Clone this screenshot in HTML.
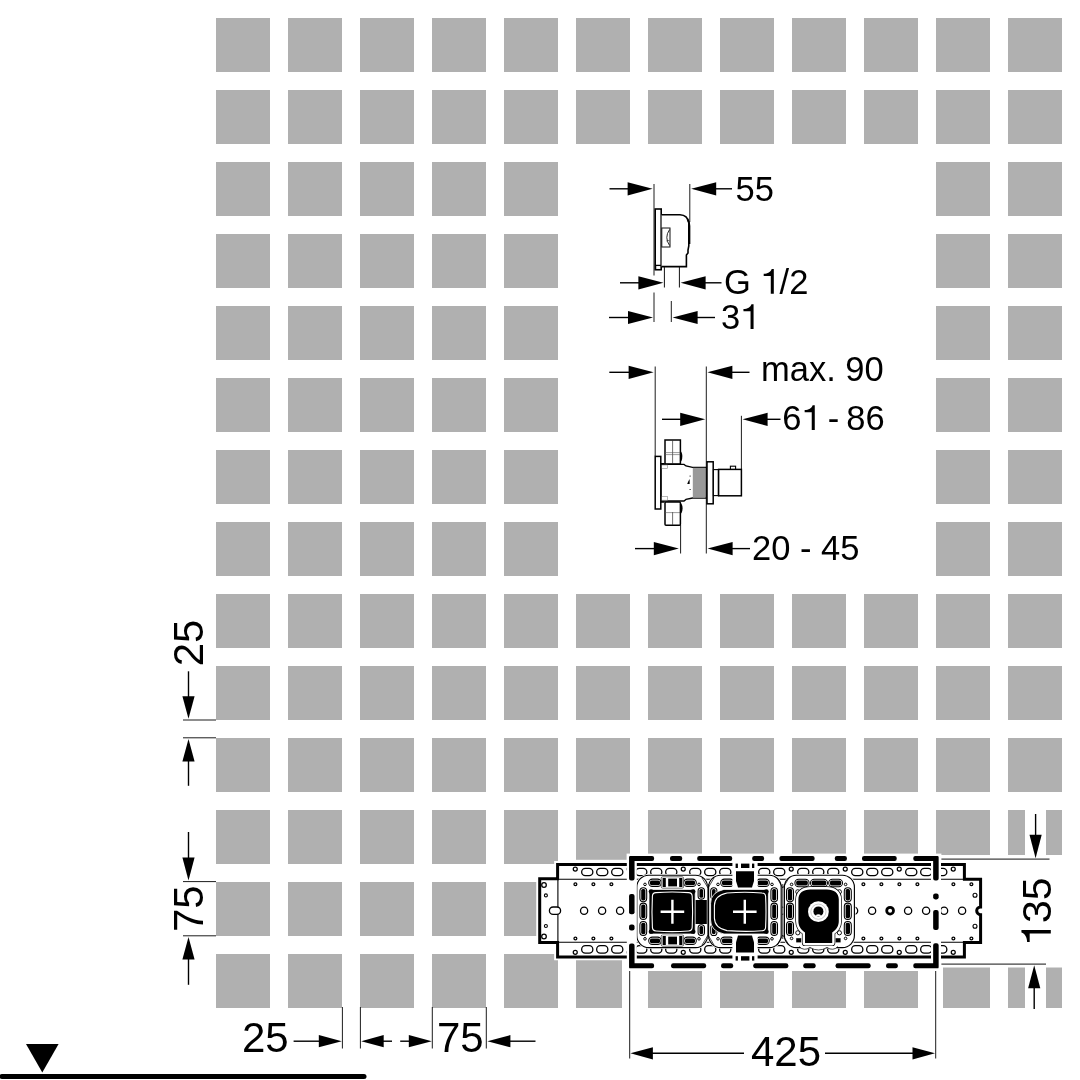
<!DOCTYPE html>
<html><head><meta charset="utf-8"><title>diagram</title>
<style>
html,body{margin:0;padding:0;background:#fff;}
body{width:1080px;height:1080px;overflow:hidden;}
svg{display:block;will-change:transform;}
text{font-family:"Liberation Sans",sans-serif;fill:#000;}
</style></head><body>
<svg width="1080" height="1080" viewBox="0 0 1080 1080">
<rect width="1080" height="1080" fill="#fff"/>
<g id="grid" fill="#b0b0b0">
<rect x="216" y="18" width="54" height="54"/>
<rect x="288" y="18" width="54" height="54"/>
<rect x="360" y="18" width="54" height="54"/>
<rect x="432" y="18" width="54" height="54"/>
<rect x="504" y="18" width="54" height="54"/>
<rect x="576" y="18" width="54" height="54"/>
<rect x="648" y="18" width="54" height="54"/>
<rect x="720" y="18" width="54" height="54"/>
<rect x="792" y="18" width="54" height="54"/>
<rect x="864" y="18" width="54" height="54"/>
<rect x="936" y="18" width="54" height="54"/>
<rect x="1008" y="18" width="54" height="54"/>
<rect x="216" y="90" width="54" height="54"/>
<rect x="288" y="90" width="54" height="54"/>
<rect x="360" y="90" width="54" height="54"/>
<rect x="432" y="90" width="54" height="54"/>
<rect x="504" y="90" width="54" height="54"/>
<rect x="576" y="90" width="54" height="54"/>
<rect x="648" y="90" width="54" height="54"/>
<rect x="720" y="90" width="54" height="54"/>
<rect x="792" y="90" width="54" height="54"/>
<rect x="864" y="90" width="54" height="54"/>
<rect x="936" y="90" width="54" height="54"/>
<rect x="1008" y="90" width="54" height="54"/>
<rect x="216" y="162" width="54" height="54"/>
<rect x="288" y="162" width="54" height="54"/>
<rect x="360" y="162" width="54" height="54"/>
<rect x="432" y="162" width="54" height="54"/>
<rect x="504" y="162" width="54" height="54"/>
<rect x="936" y="162" width="54" height="54"/>
<rect x="1008" y="162" width="54" height="54"/>
<rect x="216" y="234" width="54" height="54"/>
<rect x="288" y="234" width="54" height="54"/>
<rect x="360" y="234" width="54" height="54"/>
<rect x="432" y="234" width="54" height="54"/>
<rect x="504" y="234" width="54" height="54"/>
<rect x="936" y="234" width="54" height="54"/>
<rect x="1008" y="234" width="54" height="54"/>
<rect x="216" y="306" width="54" height="54"/>
<rect x="288" y="306" width="54" height="54"/>
<rect x="360" y="306" width="54" height="54"/>
<rect x="432" y="306" width="54" height="54"/>
<rect x="504" y="306" width="54" height="54"/>
<rect x="936" y="306" width="54" height="54"/>
<rect x="1008" y="306" width="54" height="54"/>
<rect x="216" y="378" width="54" height="54"/>
<rect x="288" y="378" width="54" height="54"/>
<rect x="360" y="378" width="54" height="54"/>
<rect x="432" y="378" width="54" height="54"/>
<rect x="504" y="378" width="54" height="54"/>
<rect x="936" y="378" width="54" height="54"/>
<rect x="1008" y="378" width="54" height="54"/>
<rect x="216" y="450" width="54" height="54"/>
<rect x="288" y="450" width="54" height="54"/>
<rect x="360" y="450" width="54" height="54"/>
<rect x="432" y="450" width="54" height="54"/>
<rect x="504" y="450" width="54" height="54"/>
<rect x="936" y="450" width="54" height="54"/>
<rect x="1008" y="450" width="54" height="54"/>
<rect x="216" y="522" width="54" height="54"/>
<rect x="288" y="522" width="54" height="54"/>
<rect x="360" y="522" width="54" height="54"/>
<rect x="432" y="522" width="54" height="54"/>
<rect x="504" y="522" width="54" height="54"/>
<rect x="936" y="522" width="54" height="54"/>
<rect x="1008" y="522" width="54" height="54"/>
<rect x="216" y="594" width="54" height="54"/>
<rect x="288" y="594" width="54" height="54"/>
<rect x="360" y="594" width="54" height="54"/>
<rect x="432" y="594" width="54" height="54"/>
<rect x="504" y="594" width="54" height="54"/>
<rect x="576" y="594" width="54" height="54"/>
<rect x="648" y="594" width="54" height="54"/>
<rect x="720" y="594" width="54" height="54"/>
<rect x="792" y="594" width="54" height="54"/>
<rect x="864" y="594" width="54" height="54"/>
<rect x="936" y="594" width="54" height="54"/>
<rect x="1008" y="594" width="54" height="54"/>
<rect x="216" y="666" width="54" height="54"/>
<rect x="288" y="666" width="54" height="54"/>
<rect x="360" y="666" width="54" height="54"/>
<rect x="432" y="666" width="54" height="54"/>
<rect x="504" y="666" width="54" height="54"/>
<rect x="576" y="666" width="54" height="54"/>
<rect x="648" y="666" width="54" height="54"/>
<rect x="720" y="666" width="54" height="54"/>
<rect x="792" y="666" width="54" height="54"/>
<rect x="864" y="666" width="54" height="54"/>
<rect x="936" y="666" width="54" height="54"/>
<rect x="1008" y="666" width="54" height="54"/>
<rect x="216" y="738" width="54" height="54"/>
<rect x="288" y="738" width="54" height="54"/>
<rect x="360" y="738" width="54" height="54"/>
<rect x="432" y="738" width="54" height="54"/>
<rect x="504" y="738" width="54" height="54"/>
<rect x="576" y="738" width="54" height="54"/>
<rect x="648" y="738" width="54" height="54"/>
<rect x="720" y="738" width="54" height="54"/>
<rect x="792" y="738" width="54" height="54"/>
<rect x="864" y="738" width="54" height="54"/>
<rect x="936" y="738" width="54" height="54"/>
<rect x="1008" y="738" width="54" height="54"/>
<rect x="216" y="810" width="54" height="54"/>
<rect x="288" y="810" width="54" height="54"/>
<rect x="360" y="810" width="54" height="54"/>
<rect x="432" y="810" width="54" height="54"/>
<rect x="504" y="810" width="54" height="54"/>
<rect x="576" y="810" width="54" height="54"/>
<rect x="648" y="810" width="54" height="54"/>
<rect x="720" y="810" width="54" height="54"/>
<rect x="792" y="810" width="54" height="54"/>
<rect x="864" y="810" width="54" height="54"/>
<rect x="936" y="810" width="54" height="54"/>
<rect x="1008" y="810" width="54" height="54"/>
<rect x="216" y="882" width="54" height="54"/>
<rect x="288" y="882" width="54" height="54"/>
<rect x="360" y="882" width="54" height="54"/>
<rect x="432" y="882" width="54" height="54"/>
<rect x="504" y="882" width="54" height="54"/>
<rect x="576" y="882" width="54" height="54"/>
<rect x="648" y="882" width="54" height="54"/>
<rect x="720" y="882" width="54" height="54"/>
<rect x="792" y="882" width="54" height="54"/>
<rect x="864" y="882" width="54" height="54"/>
<rect x="936" y="882" width="54" height="54"/>
<rect x="1008" y="882" width="54" height="54"/>
<rect x="216" y="954" width="54" height="54"/>
<rect x="288" y="954" width="54" height="54"/>
<rect x="360" y="954" width="54" height="54"/>
<rect x="432" y="954" width="54" height="54"/>
<rect x="504" y="954" width="54" height="54"/>
<rect x="576" y="954" width="54" height="54"/>
<rect x="648" y="954" width="54" height="54"/>
<rect x="720" y="954" width="54" height="54"/>
<rect x="792" y="954" width="54" height="54"/>
<rect x="864" y="954" width="54" height="54"/>
<rect x="936" y="954" width="54" height="54"/>
<rect x="1008" y="954" width="54" height="54"/>
</g>
<g id="masks" fill="#fff">
<rect x="938" y="855" width="142" height="112.5"/>
<rect x="1025" y="800" width="21" height="220"/>
<rect x="622" y="960" width="15" height="60"/>
<rect x="928.5" y="960" width="14.5" height="60"/>
</g>
<g id="top1">
<line x1="654" y1="184" x2="654" y2="275.5" stroke="#1c1c1c" stroke-width="1.0"/>
<line x1="654" y1="292.5" x2="654" y2="322" stroke="#1c1c1c" stroke-width="1.0"/>
<line x1="689.8" y1="184" x2="689.8" y2="222" stroke="#1c1c1c" stroke-width="1.0"/>
<line x1="609.5" y1="188.8" x2="628.6" y2="188.8" stroke="#000" stroke-width="1.4"/>
<polygon points="652.6,188.8 627.6,195.4 627.6,182.2" fill="#000"/>
<line x1="732.0" y1="188.8" x2="715.2" y2="188.8" stroke="#000" stroke-width="1.4"/>
<polygon points="691.2,188.8 716.2,182.2 716.2,195.4" fill="#000"/>
<g>
<text x="735.50 754.69" y="200.5" font-size="34.5" xml:space="preserve">55</text>
</g>
<rect x="655.2" y="209" width="6" height="60.6" fill="#fff" stroke="#000" stroke-width="1.6"/>
<rect x="655.6" y="265.4" width="5.4" height="4.2" fill="#fff" stroke="#000" stroke-width="1.3"/>
<path d="M661.6 214.8 H680 Q687.6 215 688.8 223 V246 L688 250 V253 L686.4 255 V266.6 H661.6" fill="#fff" stroke="#000" stroke-width="1.6"/>
<path d="M687.4 219 Q689.4 222 689.4 226 V244" fill="none" stroke="#000" stroke-width="1.9"/>
<rect x="661.8" y="228" width="8.2" height="19" fill="none" stroke="#111" stroke-width="1.0"/>
<path d="M669.6 229.5 Q664 237.5 669.6 245.5" fill="none" stroke="#111" stroke-width="0.9"/>
<path d="M666.5 241 Q668 240 669.6 241" fill="none" stroke="#222" stroke-width="0.7"/>
<line x1="664.4" y1="267" x2="664.4" y2="287.5" stroke="#111" stroke-width="1.0"/>
<line x1="679.4" y1="267" x2="679.4" y2="287.5" stroke="#111" stroke-width="1.0"/>
<line x1="620.0" y1="282.8" x2="639.4" y2="282.8" stroke="#000" stroke-width="1.4"/>
<polygon points="663.4,282.8 638.4,289.4 638.4,276.2" fill="#000"/>
<line x1="721.5" y1="282.8" x2="704.6" y2="282.8" stroke="#000" stroke-width="1.4"/>
<polygon points="680.6,282.8 705.6,276.2 705.6,289.4" fill="#000"/>
<g>
<text x="724.00 750.84" y="293.7" font-size="34.5" xml:space="preserve">G </text>
<path d="M770.78 293.70 V275.93 H763.70 V273.76 C767.67 273.76 770.78 271.96 771.71 269.00 H773.81 V293.70 Z"/>
<text x="779.61 789.19" y="293.7" font-size="34.5" xml:space="preserve">/2</text>
</g>
<line x1="671.3" y1="301" x2="671.3" y2="322" stroke="#1c1c1c" stroke-width="1.0"/>
<line x1="609.0" y1="317.5" x2="629.0" y2="317.5" stroke="#000" stroke-width="1.4"/>
<polygon points="653.0,317.5 628.0,324.1 628.0,310.9" fill="#000"/>
<line x1="715.0" y1="317.5" x2="696.6" y2="317.5" stroke="#000" stroke-width="1.4"/>
<polygon points="672.6,317.5 697.6,310.9 697.6,324.1" fill="#000"/>
<g>
<text x="721.00" y="329" font-size="34.5" xml:space="preserve">3</text>
<path d="M750.54 329.00 V311.23 H743.46 V309.06 C747.43 309.06 750.54 307.26 751.47 304.30 H753.57 V329.00 Z"/>
</g>
</g>
<g id="top2">
<line x1="655.2" y1="366.5" x2="655.2" y2="456" stroke="#1c1c1c" stroke-width="1.0"/>
<line x1="706.3" y1="366.5" x2="706.3" y2="553.5" stroke="#1c1c1c" stroke-width="1.0"/>
<line x1="741.4" y1="415.8" x2="741.4" y2="469" stroke="#1c1c1c" stroke-width="1.0"/>
<line x1="680.6" y1="525" x2="680.6" y2="553.5" stroke="#1c1c1c" stroke-width="1.0"/>
<line x1="609.3" y1="372.3" x2="629.6" y2="372.3" stroke="#000" stroke-width="1.4"/>
<polygon points="653.6,372.3 628.6,378.9 628.6,365.7" fill="#000"/>
<line x1="749.5" y1="372.3" x2="731.4" y2="372.3" stroke="#000" stroke-width="1.4"/>
<polygon points="707.4,372.3 732.4,365.7 732.4,378.9" fill="#000"/>
<g>
<text x="761.00 789.74 808.93 826.18 835.76 845.35 864.54" y="381" font-size="34.5" xml:space="preserve">max. 90</text>
</g>
<line x1="662.0" y1="419.3" x2="681.2" y2="419.3" stroke="#000" stroke-width="1.4"/>
<polygon points="705.2,419.3 680.2,425.9 680.2,412.7" fill="#000"/>
<line x1="780.5" y1="419.3" x2="766.6" y2="419.3" stroke="#000" stroke-width="1.4"/>
<polygon points="742.6,419.3 767.6,412.7 767.6,425.9" fill="#000"/>
<g>
<text x="782.20" y="430" font-size="34.5" xml:space="preserve">6</text>
<path d="M811.74 430.00 V412.23 H804.66 V410.06 C808.63 410.06 811.74 408.26 812.67 405.30 H814.77 V430.00 Z"/>
<text x="820.57 827.64 839.13 846.20 865.39" y="430" font-size="34.5" xml:space="preserve"> - 86</text>
</g>
<line x1="635.0" y1="548.6" x2="654.8" y2="548.6" stroke="#000" stroke-width="1.4"/>
<polygon points="678.8,548.6 653.8,555.2 653.8,542.0" fill="#000"/>
<line x1="750.0" y1="548.6" x2="731.6" y2="548.6" stroke="#000" stroke-width="1.4"/>
<polygon points="707.6,548.6 732.6,542.0 732.6,555.2" fill="#000"/>
<g>
<text x="752.00 771.19 790.37 799.97 811.45 821.05 840.23" y="560.3" font-size="34.5" xml:space="preserve">20 - 45</text>
</g>
<rect x="665" y="440" width="15.4" height="24" fill="#fff" stroke="#000" stroke-width="1.5"/>
<line x1="672.6" y1="440" x2="672.6" y2="464" stroke="#333" stroke-width="0.7"/>
<line x1="665" y1="452.6" x2="680.4" y2="452.6" stroke="#555" stroke-width="0.6"/>
<line x1="665" y1="454.6" x2="680.4" y2="454.6" stroke="#555" stroke-width="0.6"/>
<path d="M680.6 452 Q682.6 456 680.6 461" fill="none" stroke="#000" stroke-width="1.6"/>
<rect x="665" y="502" width="15.4" height="23.2" rx="1" fill="#fff" stroke="#000" stroke-width="1.5"/>
<line x1="672.6" y1="512" x2="672.6" y2="525" stroke="#333" stroke-width="0.7"/>
<line x1="665" y1="512.6" x2="680.4" y2="512.6" stroke="#555" stroke-width="0.6"/>
<path d="M680.6 504 Q682.8 508 680.6 513" fill="none" stroke="#000" stroke-width="1.8"/>
<path d="M661 464.4 H684 L686 466 L692.5 467.4 H706 V498 H692.5 L686 499.4 L684 501 H661 Z" fill="#fff" stroke="#000" stroke-width="1.3"/>
<rect x="692.8" y="467.8" width="12.8" height="30" fill="#999"/>
<rect x="661.4" y="465" width="6" height="3.6" fill="#fff" stroke="#888" stroke-width="0.6"/>
<rect x="661.4" y="496.6" width="6" height="3.6" fill="#fff" stroke="#888" stroke-width="0.6"/>
<path d="M688 482 l1.6 -3 v5 h-2.4 z" fill="#000"/>
<rect x="689.6" y="475.6" width="1" height="1" fill="#000"/>
<rect x="689.6" y="489" width="1" height="1" fill="#000"/>
<rect x="655.2" y="456.4" width="5.6" height="52.6" fill="#fff" stroke="#000" stroke-width="1.5"/>
<path d="M660.8 463.6 H664.6 M660.8 502 H664.6" stroke="#000" stroke-width="1.4"/>
<rect x="707" y="461.8" width="6.2" height="42" fill="#fff" stroke="#000" stroke-width="1.5"/>
<rect x="713.4" y="469.6" width="5" height="26" fill="#fff" stroke="#000" stroke-width="1.1"/>
<rect x="730.4" y="466.2" width="5.2" height="3.4" fill="#fff" stroke="#000" stroke-width="1.1"/>
<rect x="718.6" y="469.4" width="22.8" height="26.4" fill="#fff" stroke="#000" stroke-width="1.5"/>
</g>
<g id="dims">
<g transform="rotate(-90 203.2 666.3)">
<text x="203.20 226.56" y="666.3" font-size="42" xml:space="preserve">25</text>
</g>
<line x1="188.5" y1="671.3" x2="188.5" y2="697.3" stroke="#000" stroke-width="1.4"/>
<polygon points="188.5,718.8 182.4,696.3 194.6,696.3" fill="#000"/>
<line x1="183" y1="720" x2="216" y2="720" stroke="#1c1c1c" stroke-width="1.0"/>
<line x1="183" y1="737.8" x2="216" y2="737.8" stroke="#1c1c1c" stroke-width="1.0"/>
<line x1="188.5" y1="785.8" x2="188.5" y2="760.5" stroke="#000" stroke-width="1.4"/>
<polygon points="188.5,739.0 194.6,761.5 182.4,761.5" fill="#000"/>
<line x1="188.5" y1="832.0" x2="188.5" y2="858.6" stroke="#000" stroke-width="1.4"/>
<polygon points="188.5,880.6 182.4,857.6 194.6,857.6" fill="#000"/>
<line x1="183" y1="881.6" x2="216" y2="881.6" stroke="#1c1c1c" stroke-width="1.0"/>
<g transform="rotate(-90 203.2 932)">
<text x="203.20 226.56" y="932" font-size="42" xml:space="preserve">75</text>
</g>
<line x1="183" y1="935.8" x2="216" y2="935.8" stroke="#1c1c1c" stroke-width="1.0"/>
<line x1="188.5" y1="984.8" x2="188.5" y2="958.5" stroke="#000" stroke-width="1.4"/>
<polygon points="188.5,937.0 194.6,959.5 182.4,959.5" fill="#000"/>
<g>
<text x="242.00 265.36" y="1052.3" font-size="42" xml:space="preserve">25</text>
</g>
<line x1="293.6" y1="1041.2" x2="319.8" y2="1041.2" stroke="#000" stroke-width="1.4"/>
<polygon points="341.8,1041.2 318.8,1047.3 318.8,1035.1" fill="#000"/>
<line x1="342.4" y1="1007" x2="342.4" y2="1048.5" stroke="#1c1c1c" stroke-width="1.0"/>
<line x1="360.4" y1="1007" x2="360.4" y2="1048.5" stroke="#1c1c1c" stroke-width="1.0"/>
<line x1="392.0" y1="1041.2" x2="382.7" y2="1041.2" stroke="#000" stroke-width="1.4"/>
<polygon points="361.2,1041.2 383.7,1035.1 383.7,1047.3" fill="#000"/>
<line x1="400.2" y1="1041.2" x2="409.8" y2="1041.2" stroke="#000" stroke-width="1.4"/>
<polygon points="431.8,1041.2 408.8,1047.3 408.8,1035.1" fill="#000"/>
<line x1="432.3" y1="1007" x2="432.3" y2="1048.5" stroke="#1c1c1c" stroke-width="1.0"/>
<g>
<text x="437.00 460.36" y="1052.3" font-size="42" xml:space="preserve">75</text>
</g>
<line x1="486.3" y1="1007" x2="486.3" y2="1048.5" stroke="#1c1c1c" stroke-width="1.0"/>
<line x1="535.5" y1="1041.2" x2="509.4" y2="1041.2" stroke="#000" stroke-width="1.4"/>
<polygon points="487.4,1041.2 510.4,1035.1 510.4,1047.3" fill="#000"/>
<line x1="2" y1="1076.4" x2="364" y2="1076.4" stroke="#000" stroke-width="5" stroke-linecap="round"/>
<polygon points="26,1044 58.6,1044 42.3,1072.6" fill="#000"/>
<line x1="629.7" y1="970" x2="629.7" y2="1058.5" stroke="#1c1c1c" stroke-width="1.0"/>
<line x1="935.7" y1="970" x2="935.7" y2="1058.5" stroke="#1c1c1c" stroke-width="1.0"/>
<line x1="744.0" y1="1053.3" x2="651.9" y2="1053.3" stroke="#000" stroke-width="1.4"/>
<polygon points="630.4,1053.3 652.9,1047.2 652.9,1059.4" fill="#000"/>
<line x1="825.0" y1="1053.3" x2="913.5" y2="1053.3" stroke="#000" stroke-width="1.4"/>
<polygon points="935.0,1053.3 912.5,1059.4 912.5,1047.2" fill="#000"/>
<g>
<text x="751.00 774.36 797.72" y="1065.5" font-size="42" xml:space="preserve">425</text>
</g>
<line x1="941" y1="859.1" x2="1049.5" y2="859.1" stroke="#111" stroke-width="1.0"/>
<line x1="941" y1="964.1" x2="1046" y2="964.1" stroke="#111" stroke-width="1.0"/>
<line x1="1035.6" y1="814.0" x2="1035.6" y2="835.7" stroke="#000" stroke-width="1.4"/>
<polygon points="1035.6,858.2 1029.5,834.7 1041.7,834.7" fill="#000"/>
<line x1="1034.2" y1="1009.0" x2="1034.2" y2="987.2" stroke="#000" stroke-width="1.4"/>
<polygon points="1034.2,965.2 1040.3,988.2 1028.1,988.2" fill="#000"/>
<g transform="rotate(-90 1050.8 945.8)">
<path d="M1063.10 945.80 V924.68 H1054.69 V922.10 C1059.41 922.10 1063.10 919.97 1064.21 916.44 H1066.71 V945.80 Z"/>
<text x="1073.60 1096.40" y="945.8" font-size="41" xml:space="preserve">35</text>
</g>
</g>
<g id="plate">
<rect x="626.6" y="853.6" width="314.8" height="117.4" fill="#fff"/>
<rect x="572" y="859.8" width="60" height="6" fill="#fff"/>
<path d="M557.6 864.5 H964.4 V879.2 H980.6 V906.9 A3.9 3.9 0 0 0 980.6 914.7 V942.5 H964.4 V956.9 H557.6 V942.5 H539.7 V878.8 H557.6 Z" fill="#fff" stroke="#fff" stroke-width="6.9" stroke-linejoin="miter"/>
<path d="M557.6 864.5 H964.4 V879.2 H980.6 V906.9 A3.9 3.9 0 0 0 980.6 914.7 V942.5 H964.4 V956.9 H557.6 V942.5 H539.7 V878.8 H557.6 Z" fill="none" stroke="#000" stroke-width="3.0" stroke-linejoin="miter"/>
<g stroke="#000" stroke-width="1.1" fill="none">
<path d="M557.6 879.3 H963 M557.6 942.3 H963 M557.9 879 V942.5"/>
</g>
<g fill="#fff" stroke="#000">
<circle cx="575.25" cy="869.10" r="2.0" stroke-width="1.25"/>
<circle cx="575.25" cy="952.30" r="2.0" stroke-width="1.25"/>
<rect x="581.65" y="868.30" width="11.2" height="7.4" rx="3.7" stroke-width="1.3"/>
<rect x="581.65" y="945.70" width="11.2" height="7.4" rx="3.7" stroke-width="1.3"/>
<rect x="596.65" y="868.30" width="11.2" height="7.4" rx="3.7" stroke-width="1.3"/>
<rect x="596.65" y="945.70" width="11.2" height="7.4" rx="3.7" stroke-width="1.3"/>
<rect x="611.65" y="868.30" width="11.2" height="7.4" rx="3.7" stroke-width="1.3"/>
<rect x="611.65" y="945.70" width="11.2" height="7.4" rx="3.7" stroke-width="1.3"/>
<circle cx="629.25" cy="869.10" r="2.0" stroke-width="1.25"/>
<circle cx="629.25" cy="952.30" r="2.0" stroke-width="1.25"/>
<rect x="635.65" y="868.30" width="11.2" height="7.4" rx="3.7" stroke-width="1.3"/>
<rect x="635.65" y="945.70" width="11.2" height="7.4" rx="3.7" stroke-width="1.3"/>
<rect x="650.65" y="868.30" width="11.2" height="7.4" rx="3.7" stroke-width="1.3"/>
<rect x="650.65" y="945.70" width="11.2" height="7.4" rx="3.7" stroke-width="1.3"/>
<rect x="665.65" y="868.30" width="11.2" height="7.4" rx="3.7" stroke-width="1.3"/>
<rect x="665.65" y="945.70" width="11.2" height="7.4" rx="3.7" stroke-width="1.3"/>
<circle cx="683.25" cy="869.10" r="2.0" stroke-width="1.25"/>
<circle cx="683.25" cy="952.30" r="2.0" stroke-width="1.25"/>
<rect x="689.65" y="868.30" width="11.2" height="7.4" rx="3.7" stroke-width="1.3"/>
<rect x="689.65" y="945.70" width="11.2" height="7.4" rx="3.7" stroke-width="1.3"/>
<rect x="704.65" y="868.30" width="11.2" height="7.4" rx="3.7" stroke-width="1.3"/>
<rect x="704.65" y="945.70" width="11.2" height="7.4" rx="3.7" stroke-width="1.3"/>
<rect x="719.65" y="868.30" width="11.2" height="7.4" rx="3.7" stroke-width="1.3"/>
<rect x="719.65" y="945.70" width="11.2" height="7.4" rx="3.7" stroke-width="1.3"/>
<circle cx="737.25" cy="869.10" r="2.0" stroke-width="1.25"/>
<circle cx="737.25" cy="952.30" r="2.0" stroke-width="1.25"/>
<rect x="743.65" y="868.30" width="11.2" height="7.4" rx="3.7" stroke-width="1.3"/>
<rect x="743.65" y="945.70" width="11.2" height="7.4" rx="3.7" stroke-width="1.3"/>
<rect x="758.65" y="868.30" width="11.2" height="7.4" rx="3.7" stroke-width="1.3"/>
<rect x="758.65" y="945.70" width="11.2" height="7.4" rx="3.7" stroke-width="1.3"/>
<rect x="773.65" y="868.30" width="11.2" height="7.4" rx="3.7" stroke-width="1.3"/>
<rect x="773.65" y="945.70" width="11.2" height="7.4" rx="3.7" stroke-width="1.3"/>
<circle cx="791.25" cy="869.10" r="2.0" stroke-width="1.25"/>
<circle cx="791.25" cy="952.30" r="2.0" stroke-width="1.25"/>
<rect x="797.65" y="868.30" width="11.2" height="7.4" rx="3.7" stroke-width="1.3"/>
<rect x="797.65" y="945.70" width="11.2" height="7.4" rx="3.7" stroke-width="1.3"/>
<rect x="812.65" y="868.30" width="11.2" height="7.4" rx="3.7" stroke-width="1.3"/>
<rect x="812.65" y="945.70" width="11.2" height="7.4" rx="3.7" stroke-width="1.3"/>
<rect x="827.65" y="868.30" width="11.2" height="7.4" rx="3.7" stroke-width="1.3"/>
<rect x="827.65" y="945.70" width="11.2" height="7.4" rx="3.7" stroke-width="1.3"/>
<circle cx="845.25" cy="869.10" r="2.0" stroke-width="1.25"/>
<circle cx="845.25" cy="952.30" r="2.0" stroke-width="1.25"/>
<rect x="851.65" y="868.30" width="11.2" height="7.4" rx="3.7" stroke-width="1.3"/>
<rect x="851.65" y="945.70" width="11.2" height="7.4" rx="3.7" stroke-width="1.3"/>
<rect x="866.65" y="868.30" width="11.2" height="7.4" rx="3.7" stroke-width="1.3"/>
<rect x="866.65" y="945.70" width="11.2" height="7.4" rx="3.7" stroke-width="1.3"/>
<rect x="881.65" y="868.30" width="11.2" height="7.4" rx="3.7" stroke-width="1.3"/>
<rect x="881.65" y="945.70" width="11.2" height="7.4" rx="3.7" stroke-width="1.3"/>
<circle cx="899.25" cy="869.10" r="2.0" stroke-width="1.25"/>
<circle cx="899.25" cy="952.30" r="2.0" stroke-width="1.25"/>
<rect x="905.65" y="868.30" width="11.2" height="7.4" rx="3.7" stroke-width="1.3"/>
<rect x="905.65" y="945.70" width="11.2" height="7.4" rx="3.7" stroke-width="1.3"/>
<rect x="920.65" y="868.30" width="11.2" height="7.4" rx="3.7" stroke-width="1.3"/>
<rect x="920.65" y="945.70" width="11.2" height="7.4" rx="3.7" stroke-width="1.3"/>
<rect x="935.65" y="868.30" width="11.2" height="7.4" rx="3.7" stroke-width="1.3"/>
<rect x="935.65" y="945.70" width="11.2" height="7.4" rx="3.7" stroke-width="1.3"/>
<circle cx="953.25" cy="869.10" r="2.0" stroke-width="1.25"/>
<circle cx="953.25" cy="952.30" r="2.0" stroke-width="1.25"/>
<circle cx="575.40" cy="884.25" r="1.45" stroke-width="1.25"/>
<circle cx="575.40" cy="938.45" r="1.45" stroke-width="1.25"/>
<circle cx="593.40" cy="884.25" r="1.45" stroke-width="1.25"/>
<circle cx="593.40" cy="938.45" r="1.45" stroke-width="1.25"/>
<circle cx="611.40" cy="884.25" r="1.45" stroke-width="1.25"/>
<circle cx="611.40" cy="938.45" r="1.45" stroke-width="1.25"/>
<circle cx="629.40" cy="884.25" r="1.45" stroke-width="1.25"/>
<circle cx="629.40" cy="938.45" r="1.45" stroke-width="1.25"/>
<circle cx="647.40" cy="884.25" r="1.45" stroke-width="1.25"/>
<circle cx="647.40" cy="938.45" r="1.45" stroke-width="1.25"/>
<circle cx="665.40" cy="884.25" r="1.45" stroke-width="1.25"/>
<circle cx="665.40" cy="938.45" r="1.45" stroke-width="1.25"/>
<circle cx="683.40" cy="884.25" r="1.45" stroke-width="1.25"/>
<circle cx="683.40" cy="938.45" r="1.45" stroke-width="1.25"/>
<circle cx="701.40" cy="884.25" r="1.45" stroke-width="1.25"/>
<circle cx="701.40" cy="938.45" r="1.45" stroke-width="1.25"/>
<circle cx="719.40" cy="884.25" r="1.45" stroke-width="1.25"/>
<circle cx="719.40" cy="938.45" r="1.45" stroke-width="1.25"/>
<circle cx="737.40" cy="884.25" r="1.45" stroke-width="1.25"/>
<circle cx="737.40" cy="938.45" r="1.45" stroke-width="1.25"/>
<circle cx="755.40" cy="884.25" r="1.45" stroke-width="1.25"/>
<circle cx="755.40" cy="938.45" r="1.45" stroke-width="1.25"/>
<circle cx="773.40" cy="884.25" r="1.45" stroke-width="1.25"/>
<circle cx="773.40" cy="938.45" r="1.45" stroke-width="1.25"/>
<circle cx="791.40" cy="884.25" r="1.45" stroke-width="1.25"/>
<circle cx="791.40" cy="938.45" r="1.45" stroke-width="1.25"/>
<circle cx="809.40" cy="884.25" r="1.45" stroke-width="1.25"/>
<circle cx="809.40" cy="938.45" r="1.45" stroke-width="1.25"/>
<circle cx="827.40" cy="884.25" r="1.45" stroke-width="1.25"/>
<circle cx="827.40" cy="938.45" r="1.45" stroke-width="1.25"/>
<circle cx="845.40" cy="884.25" r="1.45" stroke-width="1.25"/>
<circle cx="845.40" cy="938.45" r="1.45" stroke-width="1.25"/>
<circle cx="863.40" cy="884.25" r="1.45" stroke-width="1.25"/>
<circle cx="863.40" cy="938.45" r="1.45" stroke-width="1.25"/>
<circle cx="881.40" cy="884.25" r="1.45" stroke-width="1.25"/>
<circle cx="881.40" cy="938.45" r="1.45" stroke-width="1.25"/>
<circle cx="899.40" cy="884.25" r="1.45" stroke-width="1.25"/>
<circle cx="899.40" cy="938.45" r="1.45" stroke-width="1.25"/>
<circle cx="917.40" cy="884.25" r="1.45" stroke-width="1.25"/>
<circle cx="917.40" cy="938.45" r="1.45" stroke-width="1.25"/>
<circle cx="935.40" cy="884.25" r="1.45" stroke-width="1.25"/>
<circle cx="935.40" cy="938.45" r="1.45" stroke-width="1.25"/>
<circle cx="953.40" cy="884.25" r="1.45" stroke-width="1.25"/>
<circle cx="953.40" cy="938.45" r="1.45" stroke-width="1.25"/>
<circle cx="971.40" cy="884.25" r="1.45" stroke-width="1.25"/>
<circle cx="971.40" cy="938.45" r="1.45" stroke-width="1.25"/>
<circle cx="584.10" cy="910.70" r="3.6" stroke-width="1.3"/>
<circle cx="602.10" cy="910.70" r="3.6" stroke-width="1.3"/>
<circle cx="620.10" cy="910.70" r="3.6" stroke-width="1.3"/>
<circle cx="638.10" cy="910.70" r="3.6" stroke-width="1.3"/>
<circle cx="656.10" cy="910.70" r="3.6" stroke-width="1.3"/>
<circle cx="674.10" cy="910.70" r="3.6" stroke-width="1.3"/>
<circle cx="692.10" cy="910.70" r="3.6" stroke-width="1.3"/>
<circle cx="710.10" cy="910.70" r="3.6" stroke-width="1.3"/>
<circle cx="728.10" cy="910.70" r="3.6" stroke-width="1.3"/>
<circle cx="746.10" cy="910.70" r="3.6" stroke-width="1.3"/>
<circle cx="764.10" cy="910.70" r="3.6" stroke-width="1.3"/>
<circle cx="782.10" cy="910.70" r="3.6" stroke-width="1.3"/>
<circle cx="800.10" cy="910.70" r="3.6" stroke-width="1.3"/>
<circle cx="818.10" cy="910.70" r="3.6" stroke-width="1.3"/>
<circle cx="836.10" cy="910.70" r="3.6" stroke-width="1.3"/>
<circle cx="854.10" cy="910.70" r="3.6" stroke-width="1.3"/>
<circle cx="872.10" cy="910.70" r="3.6" stroke-width="1.3"/>
<circle cx="890.10" cy="910.7" r="3.4" stroke-width="2.8"/>
<circle cx="908.10" cy="910.70" r="3.6" stroke-width="1.3"/>
<circle cx="926.10" cy="910.70" r="3.6" stroke-width="1.3"/>
<circle cx="944.10" cy="910.70" r="3.6" stroke-width="1.3"/>
<circle cx="962.10" cy="910.70" r="3.6" stroke-width="1.3"/>
<rect x="549.40" y="907.00" width="11.2" height="7.4" rx="3.7" stroke-width="1.3"/>
<circle cx="544.00" cy="885.00" r="2.3" stroke-width="1.3"/>
<circle cx="544.00" cy="936.50" r="2.3" stroke-width="1.3"/>
<circle cx="545.90" cy="895.40" r="1.5" stroke-width="1.1"/>
<circle cx="545.90" cy="926.00" r="1.5" stroke-width="1.1"/>
<circle cx="975.00" cy="895.30" r="2.0" stroke-width="1.1"/>
<circle cx="975.00" cy="926.20" r="2.0" stroke-width="1.1"/>
</g>
<rect x="636.8" y="875.2" width="70.80000000000007" height="72.39999999999998" rx="12" fill="#fff" stroke="#fff" stroke-width="2.4"/>
<rect x="636.8" y="875.2" width="70.80000000000007" height="72.39999999999998" rx="12" fill="#fff" stroke="#000" stroke-width="1.15"/>
<rect x="708.6" y="875.2" width="72.60000000000002" height="72.39999999999998" rx="12" fill="#fff" stroke="#fff" stroke-width="2.4"/>
<rect x="708.6" y="875.2" width="72.60000000000002" height="72.39999999999998" rx="12" fill="#fff" stroke="#000" stroke-width="1.15"/>
<rect x="784.4" y="875.2" width="70.0" height="72.39999999999998" rx="12" fill="#fff" stroke="#fff" stroke-width="2.4"/>
<rect x="784.4" y="875.2" width="70.0" height="72.39999999999998" rx="12" fill="#fff" stroke="#000" stroke-width="1.15"/>
<path d="M708.1 884 V939 M782.8 884 V939" stroke="#000" stroke-width="0.8"/>
<path d="M702 878 L708.1 888 L714 878 M702 945 L708.1 935 L714 945 M777 878 L782.8 888 L789 878 M777 945 L782.8 935 L789 945" stroke="#000" stroke-width="0.7" fill="none"/>
<rect x="639.90" y="887.70" width="6.80" height="14.00" rx="3.40" fill="#fff" stroke="#000" stroke-width="1.05"/>
<rect x="641.20" y="889.00" width="4.20" height="11.40" rx="1.60" fill="#000"/>
<rect x="639.90" y="903.10" width="6.80" height="16.40" rx="3.40" fill="#fff" stroke="#000" stroke-width="1.05"/>
<rect x="641.20" y="904.40" width="4.20" height="13.80" rx="1.60" fill="#000"/>
<rect x="639.90" y="921.50" width="6.80" height="14.00" rx="3.40" fill="#fff" stroke="#000" stroke-width="1.05"/>
<rect x="641.20" y="922.80" width="4.20" height="11.40" rx="1.60" fill="#000"/>
<rect x="698.10" y="887.70" width="6.40" height="11.40" rx="3.20" fill="#fff" stroke="#000" stroke-width="1.05"/>
<rect x="699.40" y="889.00" width="3.80" height="8.80" rx="1.60" fill="#000"/>
<rect x="698.10" y="924.70" width="6.40" height="10.80" rx="3.20" fill="#fff" stroke="#000" stroke-width="1.05"/>
<rect x="699.40" y="926.00" width="3.80" height="8.20" rx="1.60" fill="#000"/>
<rect x="648.70" y="879.10" width="12.60" height="7.40" rx="3.70" fill="#fff" stroke="#000" stroke-width="1.05"/>
<rect x="650.00" y="880.40" width="10.00" height="4.80" rx="1.60" fill="#000"/>
<rect x="683.70" y="879.10" width="12.60" height="7.40" rx="3.70" fill="#fff" stroke="#000" stroke-width="1.05"/>
<rect x="685.00" y="880.40" width="10.00" height="4.80" rx="1.60" fill="#000"/>
<rect x="648.70" y="937.10" width="12.60" height="7.40" rx="3.70" fill="#fff" stroke="#000" stroke-width="1.05"/>
<rect x="650.00" y="938.40" width="10.00" height="4.80" rx="1.60" fill="#000"/>
<rect x="683.70" y="937.10" width="12.60" height="7.40" rx="3.70" fill="#fff" stroke="#000" stroke-width="1.05"/>
<rect x="685.00" y="938.40" width="10.00" height="4.80" rx="1.60" fill="#000"/>
<rect x="661.2" y="876.8" width="22.4" height="11.4" rx="1.5" fill="#fff" stroke="#000" stroke-width="0.6"/>
<rect x="662.6" y="878" width="3.2" height="9" fill="#000"/>
<rect x="668.2" y="878.6" width="8.8" height="7.8" fill="#000"/>
<rect x="679.2" y="878" width="3.2" height="9" fill="#000"/>
<rect x="661.2" y="934.8" width="22.4" height="11.4" rx="1.5" fill="#fff" stroke="#000" stroke-width="0.6"/>
<rect x="662.6" y="936" width="3.2" height="9" fill="#000"/>
<rect x="668.2" y="936.6" width="8.8" height="7.8" fill="#000"/>
<rect x="679.2" y="936" width="3.2" height="9" fill="#000"/>
<circle cx="645" cy="884.4" r="1.3" fill="#fff" stroke="#000" stroke-width="1"/>
<circle cx="699" cy="884.4" r="1.3" fill="#fff" stroke="#000" stroke-width="1"/>
<circle cx="645" cy="938.8" r="1.3" fill="#fff" stroke="#000" stroke-width="1"/>
<circle cx="699" cy="938.8" r="1.3" fill="#fff" stroke="#000" stroke-width="1"/>
<rect x="692" y="900" width="14.8" height="24" fill="#000"/>
<rect x="649" y="889.4" width="46.2" height="44.6" rx="3.5" fill="#000" stroke="#fff" stroke-width="0.8"/>
<circle cx="651" cy="891.6" r="2.3" fill="#000"/>
<circle cx="693.2" cy="891.6" r="2.3" fill="#000"/>
<circle cx="651" cy="931.8" r="2.3" fill="#000"/>
<circle cx="693.2" cy="931.8" r="2.3" fill="#000"/>
<path d="M656 892.6 Q672 891.4 688.5 892.6 Q692 892.8 692.2 896 Q693 911.7 692.2 927.4 Q692 930.8 688.5 931 Q672 932.2 656 931 Q652.6 930.8 652.4 927.4 Q651.6 911.7 652.4 896 Q652.6 892.8 656 892.6 Z" fill="none" stroke="#fff" stroke-width="1.1"/>
<path d="M660.6 911.7 H684.2 M672.4 899.8 V923.8" stroke="#fff" stroke-width="2.4"/>
<rect x="770.90" y="887.70" width="6.60" height="14.00" rx="3.30" fill="#fff" stroke="#000" stroke-width="1.05"/>
<rect x="772.20" y="889.00" width="4.00" height="11.40" rx="1.60" fill="#000"/>
<rect x="770.90" y="903.10" width="6.60" height="16.40" rx="3.30" fill="#fff" stroke="#000" stroke-width="1.05"/>
<rect x="772.20" y="904.40" width="4.00" height="13.80" rx="1.60" fill="#000"/>
<rect x="770.90" y="921.50" width="6.60" height="14.00" rx="3.30" fill="#fff" stroke="#000" stroke-width="1.05"/>
<rect x="772.20" y="922.80" width="4.00" height="11.40" rx="1.60" fill="#000"/>
<rect x="710.70" y="887.70" width="6.20" height="11.40" rx="3.10" fill="#fff" stroke="#000" stroke-width="1.05"/>
<rect x="712.00" y="889.00" width="3.60" height="8.80" rx="1.60" fill="#000"/>
<rect x="710.70" y="924.70" width="6.20" height="10.80" rx="3.10" fill="#fff" stroke="#000" stroke-width="1.05"/>
<rect x="712.00" y="926.00" width="3.60" height="8.20" rx="1.60" fill="#000"/>
<rect x="720.70" y="879.10" width="13.20" height="7.40" rx="3.70" fill="#fff" stroke="#000" stroke-width="1.05"/>
<rect x="722.00" y="880.40" width="10.60" height="4.80" rx="1.60" fill="#000"/>
<rect x="756.30" y="879.10" width="13.00" height="7.40" rx="3.70" fill="#fff" stroke="#000" stroke-width="1.05"/>
<rect x="757.60" y="880.40" width="10.40" height="4.80" rx="1.60" fill="#000"/>
<rect x="720.70" y="937.10" width="13.20" height="7.40" rx="3.70" fill="#fff" stroke="#000" stroke-width="1.05"/>
<rect x="722.00" y="938.40" width="10.60" height="4.80" rx="1.60" fill="#000"/>
<rect x="756.30" y="937.10" width="13.00" height="7.40" rx="3.70" fill="#fff" stroke="#000" stroke-width="1.05"/>
<rect x="757.60" y="938.40" width="10.40" height="4.80" rx="1.60" fill="#000"/>
<circle cx="718" cy="884.4" r="1.3" fill="#fff" stroke="#000" stroke-width="1"/>
<circle cx="772" cy="884.4" r="1.3" fill="#fff" stroke="#000" stroke-width="1"/>
<circle cx="718" cy="938.8" r="1.3" fill="#fff" stroke="#000" stroke-width="1"/>
<circle cx="772" cy="938.8" r="1.3" fill="#fff" stroke="#000" stroke-width="1"/>
<rect x="732.4" y="861" width="25.2" height="28" fill="#fff"/>
<rect x="732.4" y="934" width="25.2" height="28" fill="#fff"/>
<path d="M736 871.2 H754 V881 L752 887.4 H738 L736 881 Z" fill="#000"/>
<path d="M736 952.6 H754 V942.6 L752 935.4 H738 L736 942.6 Z" fill="#000"/>
<rect x="735.6" y="863.6" width="2.3" height="4.4" fill="#000"/>
<rect x="741" y="863.6" width="8.4" height="4.4" fill="#000"/>
<rect x="752" y="863.6" width="2.3" height="4.4" fill="#000"/>
<rect x="735.6" y="956.2" width="2.3" height="4.4" fill="#000"/>
<rect x="741" y="956.2" width="8.4" height="4.4" fill="#000"/>
<rect x="752" y="956.2" width="2.3" height="4.4" fill="#000"/>
<path d="M724 889.4 H764.4 Q768.4 889.4 768.4 893.4 V930 Q768.4 934 764.4 934 H724 Q710.6 931 710.6 920 V903.4 Q710.6 892.4 724 889.4 Z" fill="#000" stroke="#fff" stroke-width="0.8"/>
<circle cx="766.4" cy="891.6" r="2.3" fill="#000"/>
<circle cx="766.4" cy="931.8" r="2.3" fill="#000"/>
<path d="M727 893 Q745 891.6 762 893 Q765.4 893.2 765.6 896.4 Q766.4 911.7 765.6 927.2 Q765.4 930.6 762 930.8 Q745 932 727 930.6 Q714.6 928 714.4 918 V905.4 Q714.6 895.6 727 893 Z" fill="none" stroke="#fff" stroke-width="1.1"/>
<path d="M733 911.7 H756.6 M744.8 899.8 V923.8" stroke="#fff" stroke-width="2.4"/>
<rect x="786.50" y="887.70" width="7.00" height="14.00" rx="3.50" fill="#fff" stroke="#000" stroke-width="1.05"/>
<rect x="787.80" y="889.00" width="4.40" height="11.40" rx="1.60" fill="#000"/>
<rect x="844.30" y="887.70" width="7.00" height="14.00" rx="3.50" fill="#fff" stroke="#000" stroke-width="1.05"/>
<rect x="845.60" y="889.00" width="4.40" height="11.40" rx="1.60" fill="#000"/>
<rect x="786.50" y="903.10" width="7.00" height="16.40" rx="3.50" fill="#fff" stroke="#000" stroke-width="1.05"/>
<rect x="787.80" y="904.40" width="4.40" height="13.80" rx="1.60" fill="#000"/>
<rect x="844.30" y="903.10" width="7.00" height="16.40" rx="3.50" fill="#fff" stroke="#000" stroke-width="1.05"/>
<rect x="845.60" y="904.40" width="4.40" height="13.80" rx="1.60" fill="#000"/>
<rect x="786.50" y="921.50" width="7.00" height="14.00" rx="3.50" fill="#fff" stroke="#000" stroke-width="1.05"/>
<rect x="787.80" y="922.80" width="4.40" height="11.40" rx="1.60" fill="#000"/>
<rect x="844.30" y="921.50" width="7.00" height="14.00" rx="3.50" fill="#fff" stroke="#000" stroke-width="1.05"/>
<rect x="845.60" y="922.80" width="4.40" height="11.40" rx="1.60" fill="#000"/>
<rect x="794.90" y="879.30" width="14.20" height="7.40" rx="3.70" fill="#fff" stroke="#000" stroke-width="1.05"/>
<rect x="796.20" y="880.60" width="11.60" height="4.80" rx="1.60" fill="#000"/>
<rect x="810.50" y="879.30" width="17.00" height="7.40" rx="3.70" fill="#fff" stroke="#000" stroke-width="1.05"/>
<rect x="811.80" y="880.60" width="14.40" height="4.80" rx="1.60" fill="#000"/>
<rect x="828.70" y="879.30" width="13.80" height="7.40" rx="3.70" fill="#fff" stroke="#000" stroke-width="1.05"/>
<rect x="830.00" y="880.60" width="11.20" height="4.80" rx="1.60" fill="#000"/>
<circle cx="791.6" cy="884.4" r="1.3" fill="#fff" stroke="#000" stroke-width="1"/>
<circle cx="845.6" cy="884.4" r="1.3" fill="#fff" stroke="#000" stroke-width="1"/>
<circle cx="791.6" cy="938.4" r="1.3" fill="#fff" stroke="#000" stroke-width="1"/>
<circle cx="845.6" cy="938.4" r="1.3" fill="#fff" stroke="#000" stroke-width="1"/>
<circle cx="797.8" cy="891.8" r="2.1" fill="#fff" stroke="#000" stroke-width="0.9"/>
<circle cx="839.4" cy="891.8" r="2.1" fill="#fff" stroke="#000" stroke-width="0.9"/>
<circle cx="797.8" cy="932.8" r="2.1" fill="#fff" stroke="#000" stroke-width="0.9"/>
<circle cx="839.4" cy="932.8" r="2.1" fill="#fff" stroke="#000" stroke-width="0.9"/>
<rect x="796.2" y="938.2" width="5" height="4.2" fill="#000"/><rect x="835.6" y="938.2" width="5" height="4.2" fill="#000"/>
<path d="M799 946.5 Q804 951.5 810 947.5 Q818.5 952.5 827 947.5 Q833 951.5 838 946.5" fill="#fff" stroke="#000" stroke-width="0.7"/>
<path d="M805 943 V932.4 C800.4 929.6 798.4 925.6 798.4 921 V899.4 C798.4 893 803 889.4 810.4 889.4 H826.8 C834.2 889.4 838.8 893 838.8 899.4 V921 C838.8 925.6 836.8 929.6 832.2 932.4 V943 Z" fill="none" stroke="#000" stroke-width="6.2" stroke-linejoin="round"/>
<path d="M805 943 V932.4 C800.4 929.6 798.4 925.6 798.4 921 V899.4 C798.4 893 803 889.4 810.4 889.4 H826.8 C834.2 889.4 838.8 893 838.8 899.4 V921 C838.8 925.6 836.8 929.6 832.2 932.4 V943 Z" fill="none" stroke="#fff" stroke-width="4.8" stroke-linejoin="round"/>
<path d="M805 943 V932.4 C800.4 929.6 798.4 925.6 798.4 921 V899.4 C798.4 893 803 889.4 810.4 889.4 H826.8 C834.2 889.4 838.8 893 838.8 899.4 V921 C838.8 925.6 836.8 929.6 832.2 932.4 V943 Z" fill="#000"/>
<circle cx="818.4" cy="911.7" r="10.4" fill="#fff"/>
<circle cx="818.4" cy="911.7" r="7.6" fill="none" stroke="#999" stroke-width="0.5"/>
<circle cx="818.4" cy="911.4" r="5" fill="#000"/>
<path d="M815.4 915.4 Q818.4 913 821.4 915.4 Q818.4 917 815.4 915.4 Z" fill="#fff"/>
<rect x="626.8" y="861" width="10" height="99.5" fill="#fff"/>
<rect x="931" y="861" width="10" height="99.5" fill="#fff"/>
<g fill="#000">
<rect x="670.00" y="855.95" width="12.20" height="5.10" rx="2.1"/>
<rect x="697.20" y="855.95" width="35.00" height="5.10" rx="2.1"/>
<rect x="752.20" y="855.95" width="11.90" height="5.10" rx="2.1"/>
<rect x="779.40" y="855.95" width="35.20" height="5.10" rx="2.1"/>
<rect x="834.80" y="855.95" width="12.10" height="5.10" rx="2.1"/>
<rect x="862.00" y="855.95" width="34.70" height="5.10" rx="2.1"/>
<rect x="671.10" y="963.25" width="35.00" height="5.10" rx="2.1"/>
<rect x="721.10" y="963.25" width="12.00" height="5.10" rx="2.1"/>
<rect x="753.30" y="963.25" width="35.00" height="5.10" rx="2.1"/>
<rect x="803.30" y="963.25" width="12.30" height="5.10" rx="2.1"/>
<rect x="835.60" y="963.25" width="35.00" height="5.10" rx="2.1"/>
<rect x="886.10" y="963.25" width="11.70" height="5.10" rx="2.1"/>
<rect x="629.05" y="894.00" width="5.50" height="20.30" rx="2.1"/>
<rect x="629.05" y="924.50" width="5.50" height="6.00" rx="2.1"/>
<rect x="933.15" y="893.40" width="5.50" height="6.00" rx="2.1"/>
<rect x="933.15" y="910.00" width="5.50" height="20.00" rx="2.1"/>
<path d="M630.25 855.95 L652.10 855.95 Q654.10 855.95 654.10 857.95 L654.10 859.05 Q654.10 861.05 652.10 861.05 L634.55 861.05 L634.55 878.60 Q634.55 880.60 632.55 880.60 L631.05 880.60 Q629.05 880.60 629.05 878.60 L629.05 857.15 Q629.05 855.95 630.25 855.95 Z"/>
<path d="M630.25 968.35 L652.10 968.35 Q654.10 968.35 654.10 966.35 L654.10 965.25 Q654.10 963.25 652.10 963.25 L634.55 963.25 L634.55 945.40 Q634.55 943.40 632.55 943.40 L631.05 943.40 Q629.05 943.40 629.05 945.40 L629.05 967.15 Q629.05 968.35 630.25 968.35 Z"/>
<path d="M937.45 855.95 L915.30 855.95 Q913.30 855.95 913.30 857.95 L913.30 859.05 Q913.30 861.05 915.30 861.05 L933.15 861.05 L933.15 878.60 Q933.15 880.60 935.15 880.60 L936.65 880.60 Q938.65 880.60 938.65 878.60 L938.65 857.15 Q938.65 855.95 937.45 855.95 Z"/>
<path d="M937.45 968.35 L915.30 968.35 Q913.30 968.35 913.30 966.35 L913.30 965.25 Q913.30 963.25 915.30 963.25 L933.15 963.25 L933.15 945.30 Q933.15 943.30 935.15 943.30 L936.65 943.30 Q938.65 943.30 938.65 945.30 L938.65 967.15 Q938.65 968.35 937.45 968.35 Z"/>
</g>
</g>
</svg>
</body></html>
